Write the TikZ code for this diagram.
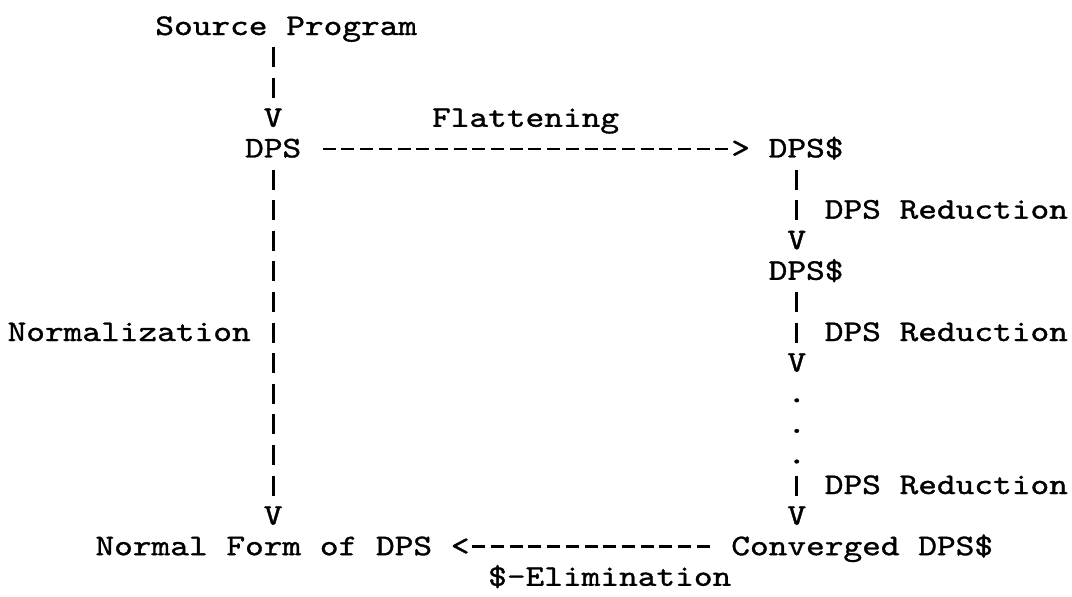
\documentclass[tikz,border=0pt]{standalone}
\usepackage{fontspec}
\newfontfamily\typew[Extension=.otf,FakeBold=1]{lmmono10-regular}
\usetikzlibrary{calc}
\newcommand{\wide}[1]{\scalebox{1.1873}[1]{#1}}
\newcommand{\X}[1]{{2+#1*18.7}}
\newcommand{\Y}[1]{{-35-#1*30.6}}
\tikzset{
  txt/.style={anchor=base west, inner sep=0pt, outer sep=0pt,
    text height=18pt, text depth=0pt,
    font=\typew\fontsize{30}{30}\selectfont},
  bar/.style={line width=2.8pt, dash pattern=on 20pt off 10.6pt},
  hdash/.style={line width=2.6pt, dash pattern=on 13pt off 5.7pt}
}
\begin{document}
\begin{tikzpicture}[x=1pt,y=1pt]
\fill[white] (0,0) rectangle (1072,-597);
\useasboundingbox (0,0) rectangle (1072,-597);
% labels and ASCII arrowheads
\node[txt] (src)   at (\X{8.2},\Y{0})   {\wide{Source Program}};
\node[txt] (v3)    at (\X{14},\Y{3})  {\wide{V}};
\node[txt] (flat)  at (\X{23},\Y{3})  {\wide{Flattening}};
\node[txt] (dps)   at (\X{13},\Y{4})  {\wide{DPS}};
\node[txt] (gt)    at (\X{39},\Y{4})  {\wide{>}};
\node[txt] (dpsA)  at (\X{41},\Y{4})  {\wide{DPS\$}};
\node[txt] (red1)  at (\X{44},\Y{6})  {\wide{DPS Reduction}};
\node[txt] (v7)    at (\X{42},\Y{7})  {\wide{V}};
\node[txt] (dpsB)  at (\X{41},\Y{8})  {\wide{DPS\$}};
\node[txt] (norm)  at (\X{0.3},\Y{10})  {\wide{Normalization}};
\node[txt] (red2)  at (\X{44},\Y{10}) {\wide{DPS Reduction}};
\node[txt] (v11)   at (\X{42},\Y{11}) {\wide{V}};
\node[txt] (d12)   at (\X{42},\Y{12}) {\wide{.}};
\node[txt] (d13)   at (\X{42},\Y{13}) {\wide{.}};
\node[txt] (d14)   at (\X{42},\Y{14}) {\wide{.}};
\node[txt] (red3)  at (\X{44},\Y{15}) {\wide{DPS Reduction}};
\node[txt] (v16l)  at (\X{14},\Y{16}) {\wide{V}};
\node[txt] (v16r)  at (\X{42},\Y{16}) {\wide{V}};
\node[txt] (nf)    at (\X{5},\Y{17})  {\wide{Normal Form of DPS}};
\node[txt] (lt)    at (\X{24},\Y{17}) {\wide{<}};
\node[txt] (conv)  at (\X{39},\Y{17}) {\wide{Converged DPS\$}};
\node[txt] (elim)  at (\X{26},\Y{18}) {\wide{\$-Elimination}};
% vertical bars
\draw[bar] ($(src.base -| v3.base)+(0,-12.1)$) -- ($(v3.north)+(0,10.1)$);
\draw[bar] ($(dps.base)+(0,-12.1)$) -- ($(v16l.north)+(0,10.1)$);
\draw[bar] ($(dpsA.base -| v7.base)+(0,-12.1)$) -- ($(v7.north)+(0,10.1)$);
\draw[bar] ($(dpsB.base -| v11.base)+(0,-12.1)$) -- ($(v11.north)+(0,10.1)$);
\draw[bar] ($(d14.base -| v16r.base)+(0,-12.1)$) -- ($(v16r.north)+(0,10.1)$);
% horizontal dashed arrows
\draw[hdash] ($(dps.base east)+(21.55,8.5)$) -- ($(gt.base west)+(-2.85,8.5)$);
\draw[hdash] ($(conv.base west)+(-21.55,8.5)$) -- ($(lt.base east)+(2.85,8.5)$);
\end{tikzpicture}
\end{document}
